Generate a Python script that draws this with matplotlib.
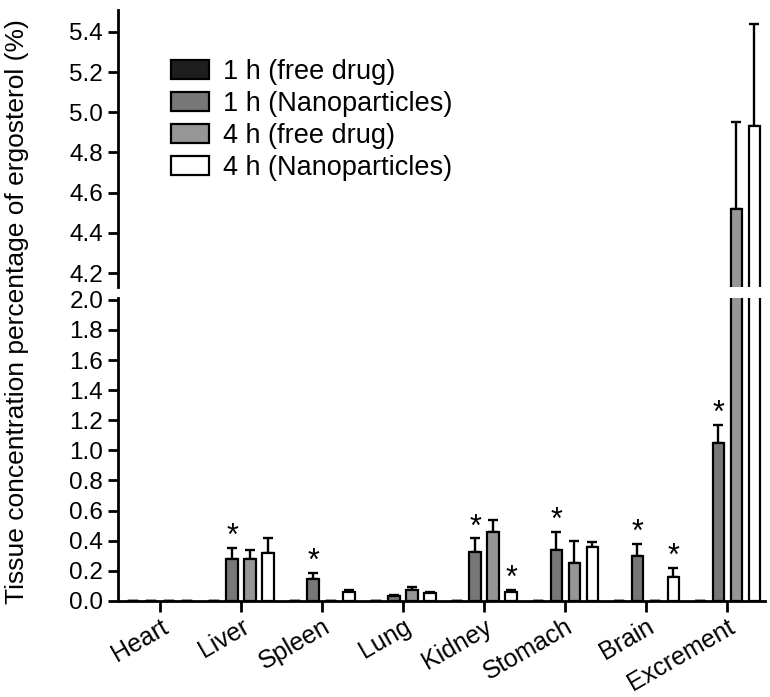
import numpy as np
import matplotlib
matplotlib.use("Agg")
import matplotlib.pyplot as plt

plt.rcParams['font.family'] = ['Liberation Sans', 'DejaVu Sans']

# organs on the x axis
organs = ['Heart', 'Liver', 'Spleen', 'Lung', 'Kidney', 'Stomach', 'Brain', 'Excrement']
groups = ['1 h (free drug)', '1 h (Nanoparticles)', '4 h (free drug)', '4 h (Nanoparticles)']

# mean values (%) for each group
free_1h = [0, 0, 0, 0, 0, 0, 0, 0]
nano_1h = [0, 0.28, 0.145, 0.03, 0.325, 0.34, 0.30, 1.05]
free_4h = [0, 0.28, 0, 0.07, 0.46, 0.25, 0, 4.52]
nano_4h = [0, 0.32, 0.06, 0.05, 0.06, 0.36, 0.16, 4.93]

# upper error (SD)
free_1h_err = [0, 0, 0, 0, 0, 0, 0, 0]
nano_1h_err = [0, 0.07, 0.04, 0.01, 0.09, 0.12, 0.08, 0.12]
free_4h_err = [0, 0.06, 0, 0.02, 0.08, 0.15, 0, 0.43]
nano_4h_err = [0, 0.10, 0.015, 0.01, 0.015, 0.03, 0.06, 0.51]

# significance stars: (organ index, group index)
stars = [(1, 1), (2, 1), (4, 1), (4, 3), (5, 1), (6, 1), (6, 3), (7, 1)]

values = [free_1h, nano_1h, free_4h, nano_4h]
errors = [free_1h_err, nano_1h_err, free_4h_err, nano_4h_err]
colors = ['#1e1e1e', '#777777', '#969696', '#ffffff']

fig = plt.figure(figsize=(7.7, 6.97), dpi=100)
ax_top = fig.add_axes([0.153, 0.588, 0.841, 0.398])
ax_bot = fig.add_axes([0.153, 0.138, 0.841, 0.434])

x = np.arange(len(organs))
step = 0.222
width = 0.14
offsets = [-1.5 * step, -0.5 * step, 0.5 * step, 1.5 * step]

for ax in (ax_top, ax_bot):
    for i in range(4):
        ax.bar(x + offsets[i], values[i], width, color=colors[i], edgecolor='black',
               linewidth=1.6, label=groups[i], zorder=2)
        err = np.array(errors[i])
        ax.errorbar(x + offsets[i], values[i], yerr=[np.zeros_like(err), err],
                    fmt='none', ecolor='black', elinewidth=1.7, capsize=3.5,
                    capthick=1.7, zorder=1)
    for o, g in stars:
        top = values[g][o] + errors[g][o]
        ax.annotate('*', (x[o] + offsets[g], top), xytext=(0, -3), textcoords='offset points',
                    ha='center', va='bottom', fontsize=22, annotation_clip=True)
    ax.set_xlim(-0.52, 7.47)
    for s in ('top', 'right'):
        ax.spines[s].set_visible(False)
    ax.spines['left'].set_linewidth(2)
    ax.spines['bottom'].set_linewidth(2)
    ax.tick_params(axis='y', labelsize=17.5, width=2, length=7, direction='out')
    ax.tick_params(axis='x', width=2, length=8, direction='out')

ax_top.set_ylim(4.13, 5.51)
ax_top.set_yticks([4.2, 4.4, 4.6, 4.8, 5.0, 5.2, 5.4])
ax_top.spines['bottom'].set_visible(False)
ax_top.set_xticks([])

ax_bot.set_ylim(0, 2.01)
ax_bot.set_yticks(np.arange(0, 2.01, 0.2))
ax_bot.set_yticklabels(['%.1f' % v for v in np.arange(0, 2.01, 0.2)])
ax_bot.set_xticks(x)
ax_bot.set_xticklabels(organs, rotation=30, ha='right', rotation_mode='anchor', fontsize=18)
ax_bot.tick_params(axis='x', pad=2)

handles, labels = ax_bot.get_legend_handles_labels()
fig.legend(handles[:4], labels[:4], loc='upper left', bbox_to_anchor=(0.19, 0.95),
           frameon=False, fontsize=19.5, handlelength=1.4, handleheight=0.7,
           labelspacing=0.22, handletextpad=0.55)

fig.text(0.022, 0.553, 'Tissue concentration percentage of ergosterol (%)',
         rotation=90, va='center', ha='center', fontsize=19)

fig.savefig('out.png', dpi=100)
